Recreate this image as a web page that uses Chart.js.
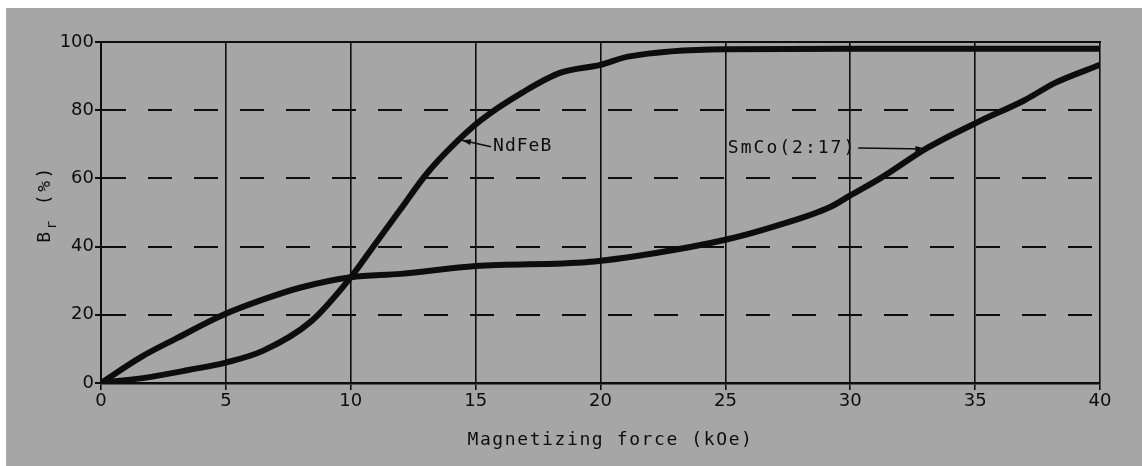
<!DOCTYPE html>
<html>
<head>
<meta charset="utf-8">
<script src="https://cdn.jsdelivr.net/npm/chart.js@4.4.1/dist/chart.umd.min.js"></script>
<style>
  html, body { margin: 0; padding: 0; background: #ffffff; }
  #c { display: block; }
</style>
</head>
<body>
<canvas id="c" width="1142" height="466"></canvas>
<script>
// ---- data ----
const ndfebForce = [0, 2, 3.5, 5, 6.5, 8.4, 10, 11, 12, 13, 14, 15.2, 16.9, 18.4, 20, 21.1, 25, 30, 35, 40];
const ndfebBr    = [0, 1.8, 3.8, 6, 9.5, 18, 31, 41, 51, 61, 69, 77, 85.3, 91, 93.3, 95.7, 97.9, 98, 98, 98];

const smcoForce = [0, 1.6, 3, 4.9, 6.5, 8, 10, 12, 15, 19.5, 22.1, 25, 27, 29.2, 30, 31.2, 33.1, 35.1, 37, 38.2, 40];
const smcoBr    = [0, 7.6, 13, 20, 24.5, 28, 31, 32, 34.3, 35.5, 38, 42, 46, 51.6, 55, 60, 69, 76.5, 83, 88, 93.3];

const xTickValues = [0, 5, 10, 15, 20, 25, 30, 35, 40];
const yTickValues = [0, 20, 40, 60, 80, 100];

const seriesNames = ['NdFeB', 'SmCo(2:17)'];
const xTitle = 'Magnetizing force (kOe)';
const yTitle = ['B', 'r', ' (%)'];

// ---- chart ----
const INK = '#0d0d0d';
const PAPER = '#a6a6a6';
const MONO = '"DejaVu Sans Mono", monospace';
const SANS = '"DejaVu Sans", sans-serif';

function pts(xs, ys) { return xs.map((x, i) => ({ x: x, y: ys[i] })); }

const paperPlugin = {
  id: 'paper',
  beforeDraw(chart) {
    const ctx = chart.ctx;
    ctx.save();
    ctx.fillStyle = PAPER;
    ctx.fillRect(6, 8, chart.width - 6, chart.height - 8);
    ctx.restore();
  }
};

function arrowHead(ctx, x1, y1, x2, y2, len, wid) {
  const a = Math.atan2(y2 - y1, x2 - x1);
  ctx.beginPath();
  ctx.moveTo(x2, y2);
  ctx.lineTo(x2 - len * Math.cos(a) + wid * Math.sin(a), y2 - len * Math.sin(a) - wid * Math.cos(a));
  ctx.lineTo(x2 - len * Math.cos(a) - wid * Math.sin(a), y2 - len * Math.sin(a) + wid * Math.cos(a));
  ctx.closePath();
  ctx.fill();
}

const textPlugin = {
  id: 'texts',
  afterDraw(chart) {
    const ctx = chart.ctx;
    const xs = chart.scales.x, ys = chart.scales.y;
    const ca = chart.chartArea;
    ctx.save();
    ctx.fillStyle = INK;
    ctx.strokeStyle = INK;

    // x axis title
    ctx.font = '18px ' + MONO;
    ctx.letterSpacing = '1.6px';
    ctx.textAlign = 'center';
    ctx.textBaseline = 'middle';
    ctx.fillText(xTitle, (ca.left + ca.right) / 2 + 10, 440);

    // y axis title (rotated, with subscript r)
    ctx.save();
    ctx.translate(45, 204);
    ctx.rotate(-Math.PI / 2);
    ctx.textAlign = 'left';
    ctx.textBaseline = 'middle';
    ctx.font = '18px ' + MONO;
    ctx.letterSpacing = '2.5px';
    const wB = ctx.measureText(yTitle[0]).width;
    ctx.font = '14px ' + MONO;
    const wr = ctx.measureText(yTitle[1]).width;
    ctx.font = '18px ' + MONO;
    const wRest = ctx.measureText(yTitle[2]).width;
    let sx = -(wB + wr + wRest) / 2;
    ctx.fillText(yTitle[0], sx, 0);
    ctx.font = '14px ' + MONO;
    ctx.fillText(yTitle[1], sx + wB, 7);
    ctx.font = '18px ' + MONO;
    ctx.fillText(yTitle[2], sx + wB + wr, 0);
    ctx.restore();

    // series labels with arrows
    ctx.font = '18px ' + MONO;
    ctx.letterSpacing = '1px';
    ctx.textAlign = 'left';
    ctx.textBaseline = 'middle';
    ctx.lineWidth = 1.6;

    // NdFeB
    let tx = xs.getPixelForValue(15.7), ty = ys.getPixelForValue(69.3);
    ctx.fillText(seriesNames[0], tx, ty);
    let ax = xs.getPixelForValue(14.45), ay = ys.getPixelForValue(71.2);
    ctx.beginPath();
    ctx.moveTo(tx - 2, ty);
    ctx.lineTo(ax, ay);
    ctx.stroke();
    arrowHead(ctx, tx - 2, ty, ax, ay, 9, 3);

    // SmCo
    ctx.letterSpacing = '2px';
    tx = xs.getPixelForValue(25.1); ty = ys.getPixelForValue(68.9);
    ctx.fillText(seriesNames[1], tx, ty);
    const w = ctx.measureText(seriesNames[1]).width;
    const sx2 = tx + w + 2;
    ax = xs.getPixelForValue(33.05); ay = ys.getPixelForValue(68.6);
    ctx.beginPath();
    ctx.moveTo(sx2, ty);
    ctx.lineTo(ax, ay);
    ctx.stroke();
    arrowHead(ctx, sx2, ty, ax, ay, 11, 3);

    ctx.restore();
  }
};

new Chart(document.getElementById('c'), {
  type: 'line',
  data: {
    datasets: [
      {
        label: seriesNames[0],
        data: pts(ndfebForce, ndfebBr),
        borderColor: INK,
        borderWidth: 6,
        pointRadius: 0,
        cubicInterpolationMode: 'monotone',
        borderCapStyle: 'round',
        borderJoinStyle: 'round',
        fill: false
      },
      {
        label: seriesNames[1],
        data: pts(smcoForce, smcoBr),
        borderColor: INK,
        borderWidth: 6,
        pointRadius: 0,
        cubicInterpolationMode: 'monotone',
        borderCapStyle: 'round',
        borderJoinStyle: 'round',
        fill: false
      }
    ]
  },
  options: {
    responsive: false,
    animation: false,
    devicePixelRatio: 1,
    layout: { padding: { left: 0, top: 42, right: 42, bottom: 0 } },
    plugins: {
      legend: { display: false },
      tooltip: { enabled: false },
      title: { display: false }
    },
    scales: {
      x: {
        type: 'linear',
        position: 'bottom',
        min: 0,
        max: 40,
        afterBuildTicks: (s) => { s.ticks = xTickValues.map(v => ({ value: v })); },
        afterFit: (s) => { s.height = 83; },
        ticks: {
          color: INK,
          font: { family: SANS, size: 18 },
          padding: 1,
          maxRotation: 0,
          autoSkip: false
        },
        grid: {
          color: INK,
          lineWidth: 1.6,
          drawTicks: true,
          tickLength: 7,
          tickColor: INK,
          tickWidth: 1.6
        },
        border: { display: true, color: INK, width: 2.5 }
      },
      xTop: {
        type: 'linear',
        position: 'top',
        min: 0,
        max: 40,
        afterFit: (s) => { s.height = 0; },
        ticks: { display: false },
        grid: { display: false, drawTicks: false },
        border: { display: true, color: INK, width: 2 }
      },
      y: {
        type: 'linear',
        min: 0,
        max: 100,
        afterBuildTicks: (s) => { s.ticks = yTickValues.map(v => ({ value: v })); },
        afterFit: (s) => { s.width = 101; },
        ticks: {
          color: INK,
          font: { family: SANS, size: 18 },
          padding: 1,
          autoSkip: false
        },
        grid: {
          color: (c) => (c.tick && (c.tick.value === 0 || c.tick.value === 100)) ? 'rgba(0,0,0,0)' : INK,
          lineWidth: 2,
          drawTicks: true,
          tickLength: 6,
          tickColor: INK,
          tickWidth: 2,
          tickBorderDash: []
        },
        border: { display: true, color: INK, width: 2, dash: [24, 22] }
      }
    }
  },
  plugins: [paperPlugin, textPlugin]
});
</script>
</body>
</html>
